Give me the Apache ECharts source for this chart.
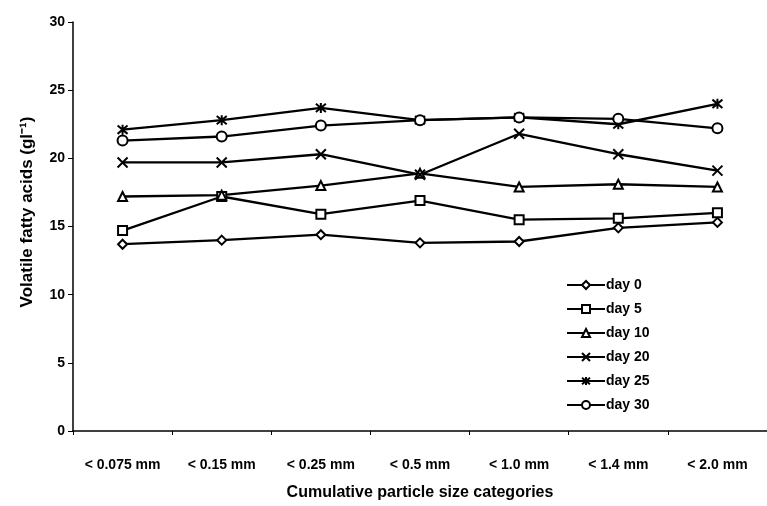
<!DOCTYPE html>
<html>
<head>
<meta charset="utf-8">
<script src="https://cdn.jsdelivr.net/npm/echarts@6/dist/echarts.min.js"></script>
<style>
html,body{margin:0;padding:0;background:#fff;}
#c{width:767px;height:506px;}
</style>
</head>
<body>
<div id="c"></div>
<script>
var categories = ['< 0.075 mm', '< 0.15 mm', '< 0.25 mm', '< 0.5 mm', '< 1.0 mm', '< 1.4 mm', '< 2.0 mm'];
var day0  = [13.7, 14.0, 14.4, 13.8, 13.9, 14.9, 15.3];
var day5  = [14.7, 17.2, 15.9, 16.9, 15.5, 15.6, 16.0];
var day10 = [17.2, 17.3, 18.0, 18.9, 17.9, 18.1, 17.9];
var day20 = [19.7, 19.7, 20.3, 18.8, 21.8, 20.3, 19.1];
var day25 = [22.1, 22.8, 23.7, 22.8, 23.0, 22.5, 24.0];
var day30 = [21.3, 21.6, 22.4, 22.8, 23.0, 22.9, 22.2];
var yTicks = [0, 5, 10, 15, 20, 25, 30];
var yTitle = 'Volatile fatty acids (gl\u207B\u00B9)';
var xTitle = 'Cumulative particle size categories';

var FONT = 'Liberation Sans';
var xSym = 'path://M0,0L10,10M10,0L0,10';
var starSym = 'path://M0,0L10,10M10,0L0,10M5,-1L5,11';

function mk(name, data, symbol, size, fill) {
  return {
    name: name, type: 'line', data: data,
    symbol: symbol, symbolSize: size, showSymbol: true,
    lineStyle: {color: '#000', width: 2.3},
    itemStyle: {color: fill, borderColor: '#000', borderWidth: 2},
    emphasis: {disabled: true},
    animation: false
  };
}

var chart = echarts.init(document.getElementById('c'), null, {renderer: 'canvas'});
chart.setOption({
  backgroundColor: '#fff',
  animation: false,
  grid: {left: 73, top: 22, width: 702, bottom: 74, containLabel: false},
  legend: {
    orient: 'vertical', left: 561, top: 273,
    itemWidth: 38, itemHeight: 10, itemGap: 10,
    textStyle: {fontFamily: FONT, fontSize: 14, fontWeight: 'bold', color: '#000', padding: [0, 0, 0, -4]},
    data: ['day 0', 'day 5', 'day 10', 'day 20', 'day 25', 'day 30']
  },
  graphic: [{
    type: 'text', x: 27, y: 212, rotation: Math.PI / 2,
    style: {text: yTitle, fontFamily: FONT, fontSize: 17, fontWeight: 'bold', fill: '#000',
            align: 'center', verticalAlign: 'middle'}
  }],
  xAxis: {
    type: 'category', data: categories, boundaryGap: true,
    name: xTitle, nameLocation: 'middle', nameGap: 54,
    nameTextStyle: {fontFamily: FONT, fontSize: 16, color: '#000', fontWeight: 'bold'},
    axisLine: {lineStyle: {color: '#000', width: 1.5}},
    axisTick: {show: true, inside: false, length: 4, lineStyle: {color: '#000'}},
    axisLabel: {fontFamily: FONT, fontSize: 14, fontWeight: 'bold', color: '#000', margin: 27, interval: 0}
  },
  yAxis: {
    type: 'value', min: yTicks[0], max: yTicks[yTicks.length - 1], interval: 5,
    axisLine: {show: true, lineStyle: {color: '#000', width: 1.5}},
    axisTick: {show: true, inside: false, length: 5, lineStyle: {color: '#000'}},
    splitLine: {show: false},
    axisLabel: {fontFamily: FONT, fontSize: 14, fontWeight: 'bold', color: '#000', margin: 8}
  },
  series: [
    mk('day 0', day0, 'diamond', 9, '#fff'),
    mk('day 5', day5, 'rect', 9, '#fff'),
    mk('day 10', day10, 'triangle', 9, '#fff'),
    mk('day 20', day20, xSym, 10, 'none'),
    mk('day 25', day25, starSym, 10, 'none'),
    mk('day 30', day30, 'circle', 10, '#fff')
  ]
});
</script>
</body>
</html>
